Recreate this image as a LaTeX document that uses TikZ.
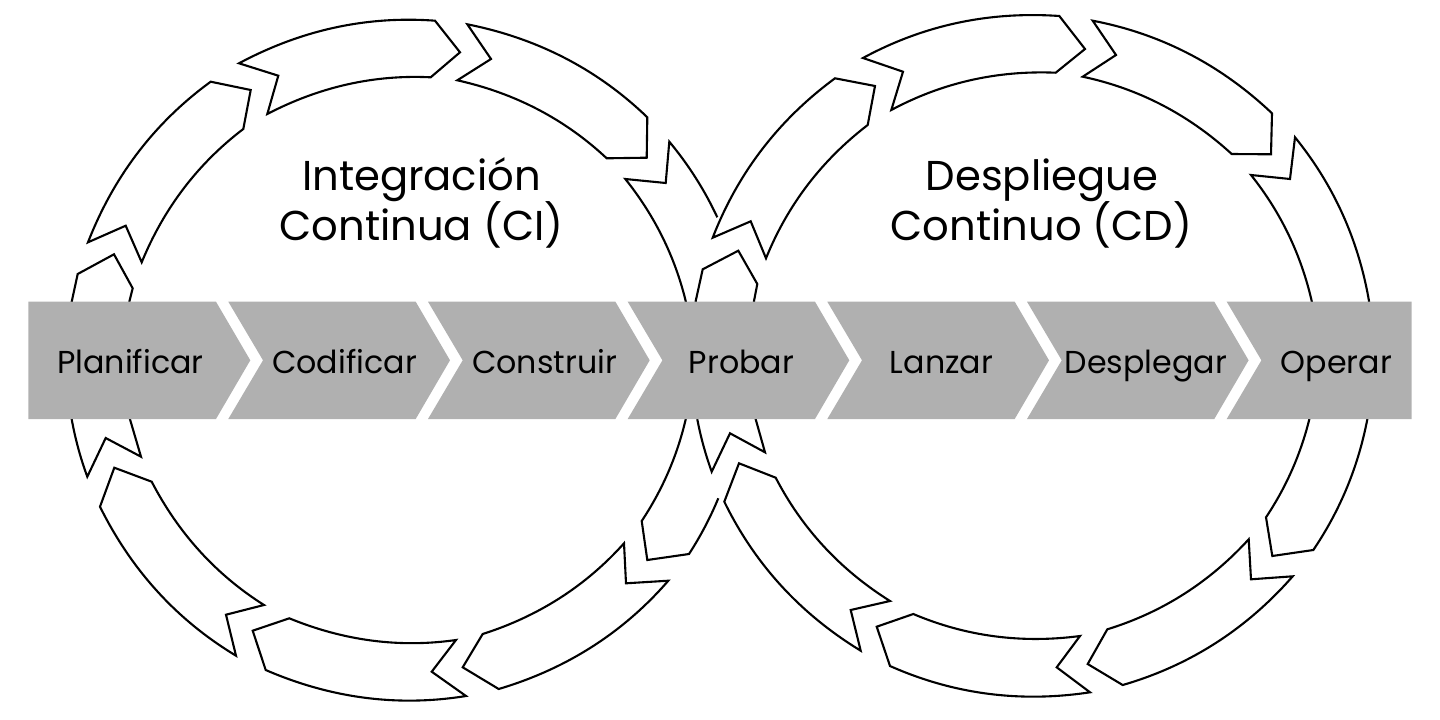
\documentclass[tikz,border=0pt]{standalone}
\usepackage{fontspec}
\setmainfont{Poppins}
\usetikzlibrary{calc}
% arc-like curve from #1 to #2, radius #3, bulging away from the ring centre (ctr)
\newcommand{\cvr}[3]{let \p1=#1, \p2=#2, \n1={veclen(\x2-\x1,\y2-\y1)}, \n2={(\n1/8)*(\n1/#3)}, \p3=($#1!.5!#2!-\n2!(ctr)$) in .. controls ($1.3333*(\p3)-0.3333*#2$) and ($1.3333*(\p3)-0.3333*#1$) .. #2}
\newcommand{\cvo}[2]{\cvr{#1}{#2}{345}}
\newcommand{\cvi}[2]{\cvr{#1}{#2}{308}}
\definecolor{barGray}{HTML}{B0B0B0}
\tikzset{
  flow/.style={draw=black, line width=2.1pt, miter limit=10, line join=miter},
  chev/.style={fill=barGray},
  steplabel/.style={anchor=base, inner sep=0pt, text=black, font=\fontsize{31.7}{38}\selectfont},
  titlelabel/.style={anchor=base, inner sep=0pt, text=black, font=\fontsize{41.7}{50}\selectfont}
}
\newcommand{\chevL}[2]{\fill[chev] (#1,301.7) -- (#2,301.7) -- ({#2+34.3},360.3) -- (#2,419) -- (#1,419) -- ({#1+34.7},360.3) -- cycle;}
\begin{document}
\begin{tikzpicture}[x=1pt,y=-1pt]
\useasboundingbox (0,0) rectangle (1440,720);
% ---- left ring
\coordinate (ctr) at (385,360);
\draw[flow] (88,242.3) -- (125.7,225.7) -- (141.7,262.3) \cvi{(141.7,262.3)}{(243.3,129)} -- (250.7,90) -- (210.7,81.7) \cvo{(210.7,81.7)}{(88,242.3)} -- cycle;
\draw[flow] (239,63.3) -- (278.3,75.7) -- (267.3,114) \cvi{(267.3,114)}{(430.7,77.3)} -- (460,52.3) -- (435,20.7) \cvo{(435,20.7)}{(239,63.3)} -- cycle;
\draw[flow] (467.3,24.3) -- (491,59) -- (457.3,80.3) \cvi{(457.3,80.3)}{(606.7,158.3)} -- (646.7,157.7) -- (647.3,117.3) \cvo{(647.3,117.3)}{(467.3,24.3)} -- cycle;
\draw[flow] (717.3,217.3) \cvo{(717.3,217.3)}{(669.3,141.7)} -- (665.7,183) -- (625.3,179) \cvi{(625.3,179)}{(685.7,301)} -- (685.7,419.3) \cvi{(685.7,419.3)}{(641.7,521)} -- (647.3,560) -- (689,554) \cvo{(689,554)}{(718.3,498.3)};
\draw[flow] (462.7,667.3) -- (482.7,634) \cvi{(482.7,634)}{(624,543.3)} -- (626,583.3) -- (668.3,580.7) \cvo{(668.3,580.7)}{(498.7,689)} -- cycle;
\draw[flow] (252.7,630.7) -- (289.3,618.3) \cvi{(289.3,618.3)}{(456,640)} -- (431.7,671.7) -- (466,696) \cvo{(466,696)}{(265.7,670)} -- cycle;
\draw[flow] (114.3,467.7) -- (151.7,481.7) \cvi{(151.7,481.7)}{(264,605)} -- (226,614.7) -- (236,655.7) \cvo{(236,655.7)}{(100,506.7)} -- cycle;
\draw[flow] (71.7,301.7) -- (77.7,274) -- (114,254.3) -- (132.7,288.3) -- (129.3,301.7) -- (130,419.3) -- (141,456.7) -- (105.7,438) -- (87.3,476.7) \cvo{(87.3,476.7)}{(71.7,419.3)} -- cycle;
% ---- right ring
\coordinate (ctr) at (1045,360);
\draw[flow] (712.7,237.7) -- (750.7,221.3) -- (766,258.3) \cvi{(766,258.3)}{(867.7,125)} -- (875,86) -- (835,78.3) \cvo{(835,78.3)}{(712.7,237.7)} -- cycle;
\draw[flow] (863,58) -- (903,71.7) -- (891.3,110) \cvi{(891.3,110)}{(1055.7,72.7)} -- (1085,49) -- (1059.3,16) \cvo{(1059.3,16)}{(863,58)} -- cycle;
\draw[flow] (1092.7,20.7) -- (1116,55) -- (1082.7,76.7) \cvi{(1082.7,76.7)}{(1231.7,154)} -- (1271,154.3) -- (1272,113.3) \cvo{(1272,113.3)}{(1092.7,20.7)} -- cycle;
\draw[flow] (1251,175) -- (1290,179) -- (1295,137.3) \cvo{(1295,137.3)}{(1369,301)} -- (1367.3,419.3) \cvo{(1367.3,419.3)}{(1313.3,550)} -- (1272.3,556) -- (1266,517.3) \cvi{(1266,517.3)}{(1309.3,419.3)} -- (1311.7,301) \cvi{(1311.7,301)}{(1251,175)} -- cycle;
\draw[flow] (1087.7,664) -- (1107.3,629.3) \cvi{(1107.3,629.3)}{(1248.7,539.3)} -- (1251,579.3) -- (1292.7,576.3) \cvo{(1292.7,576.3)}{(1122.7,685)} -- cycle;
\draw[flow] (876.7,626.7) -- (913.3,614) \cvi{(913.3,614)}{(1080,636)} -- (1056.7,667.3) -- (1090,692.3) \cvo{(1090,692.3)}{(890,666)} -- cycle;
\draw[flow] (739,463.3) -- (775.7,477.7) \cvi{(775.7,477.7)}{(890,601)} -- (850.7,610) -- (860.7,650.7) \cvo{(860.7,650.7)}{(724.3,501.7)} -- cycle;
\draw[flow] (695.7,301) -- (702.7,269.3) -- (738.3,250.7) -- (757.3,284) -- (754,301) -- (755.7,419.3) -- (765,452.3) -- (730,433.3) -- (711.7,471.7) \cvo{(711.7,471.7)}{(697.3,419.3)} -- cycle;
% ---- chevron bar
\fill[chev] (28.3,301.7) -- (216,301.7) -- (250.3,360.3) -- (216,419) -- (28.3,419) -- cycle;
\chevL{228.3}{415.7}
\chevL{428}{615.4}
\chevL{627.7}{815}
\chevL{827.3}{1014.7}
\chevL{1027}{1214.3}
\fill[chev] (1226.7,301.7) -- (1411.7,301.7) -- (1411.7,419) -- (1226.7,419) -- (1261.4,360.3) -- cycle;
% ---- labels
\node[steplabel] (planificar) at (130.5,373) {Planificar};
\node[steplabel] (codificar) at (344.5,373) {Codificar};
\node[steplabel] (construir) at (544.5,373) {Construir};
\node[steplabel] (probar) at (741.5,373) {Probar};
\node[steplabel] (lanzar) at (941.5,373) {Lanzar};
\node[steplabel] (desplegar) at (1146,373) {Desplegar};
\node[steplabel] (operar) at (1336.5,373) {Operar};
\node[titlelabel] (ci1) at (421.5,190) {Integración};
\node[titlelabel] (ci2) at (421.5,240.7) {Continua (CI)};
\node[titlelabel] (cd1) at (1042,190) {Despliegue};
\node[titlelabel] (cd2) at (1041.5,240.7) {Continuo (CD)};
\end{tikzpicture}
\end{document}
